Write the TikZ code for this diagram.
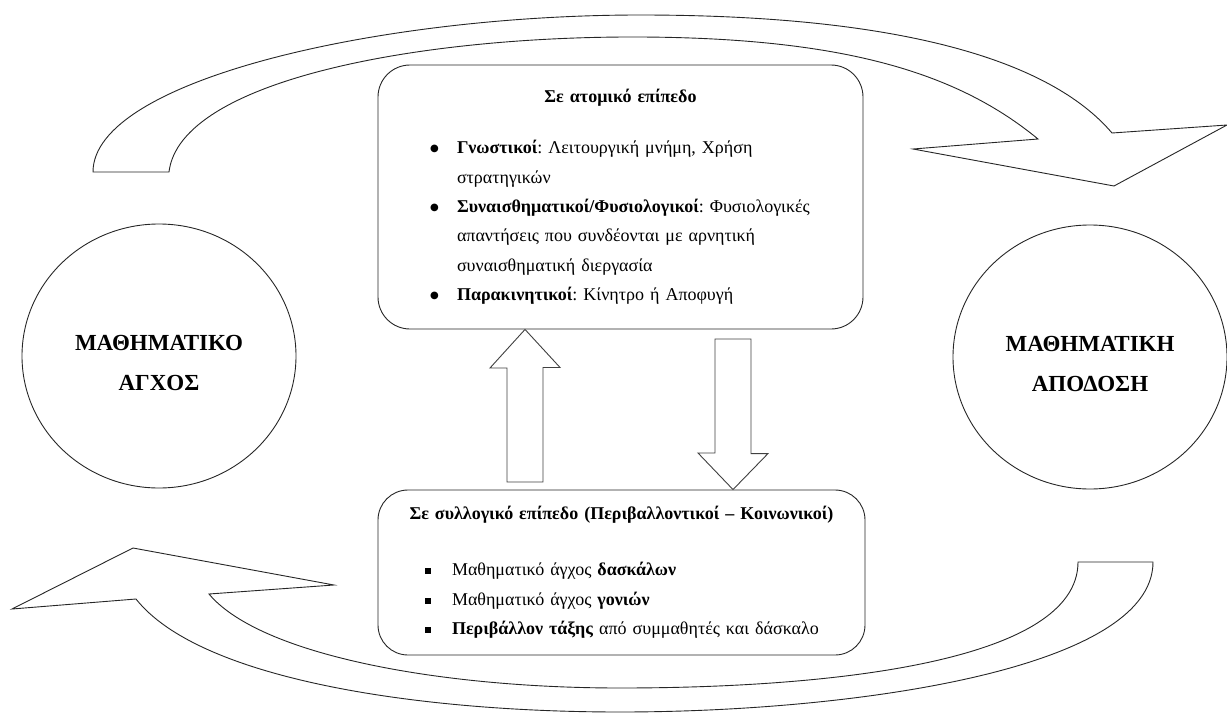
\documentclass[tikz,border=0pt]{standalone}
\usepackage{fontspec}
\setmainfont{Liberation Serif}
\newfontfamily\symfont{DejaVu Sans}
\usetikzlibrary{positioning,shapes.geometric}

\newcommand{\dotitem}[2]{\par\hangindent=27pt\hangafter=1\noindent\makebox[27pt][l]{#1}#2}
\newcommand{\roundbul}{\raisebox{2pt}{\symfont\fontsize{10pt}{10pt}\selectfont ●}}
\newcommand{\squarebul}{\rule[1.5pt]{6pt}{6pt}}

\tikzset{
  level/.style={draw=black!85, line width=0.9pt, fill=white, rounded corners=32pt,
    minimum width=485pt, inner sep=0pt, text width=485pt,
    font=\fontsize{18pt}{29.4pt}\selectfont\frenchspacing},
  factor/.style={draw=black!85, line width=0.9pt, ellipse, minimum width=274pt, minimum height=264pt},
  factortext/.style={font=\fontsize{23pt}{40pt}\selectfont\bfseries, align=center},
  bigarrow/.style={draw=black!85, line width=0.9pt, fill=white, line join=miter},
  blockarrow/.style={draw=black!75, line width=0.9pt, fill=white}
}

\begin{document}
\begin{tikzpicture}[x=1pt, y=-1pt]
	\useasboundingbox (0,0) rectangle (1227,715);
	
	% big curved arrows
	\draw[bigarrow] (93,172) .. controls (93,80) and (380,15) .. (640,15)
		.. controls (900,15) and (1050,60) .. (1112,133) -- (1227,125) -- (1114,186)
		-- (913,149) -- (1038,139) .. controls (960,75) and (850,38) .. (640,37)
		.. controls (420,36) and (180,80) .. (169,172) -- cycle;
	\draw[bigarrow] (136,599) .. controls (200,680) and (420,712) .. (620,712)
		.. controls (850,712) and (1153,670) .. (1153,562) -- (1078,562)
		.. controls (1078,662) and (830,688) .. (620,688)
		.. controls (440,688) and (260,655) .. (209,594) -- (334,585) -- (133,548)
		-- (12,609) -- cycle;
	
	\node[factor] (anxiety) at (159,356) {};
	\node[factortext] (anxietytext) at (anxiety.center) [yshift=-7pt] {ΜΑΘΗΜΑΤΙΚΟ\\ΑΓΧΟΣ};
	\node[factor] (performance) at (1090,357) {};
	\node[factortext] (performancetext) at (performance.center) [yshift=-7pt] {ΜΑΘΗΜΑΤΙΚΗ\\ΑΠΟΔΟΣΗ};
	
	\node[level, minimum height=264pt] (indiv) at (620.5,197) {%
		{\noindent\centering\textbf{Σε ατομικό επίπεδο}\par}
		\vspace{21.6pt}
		\raggedright\leftskip=52pt
		\dotitem{\roundbul}{\textbf{Γνωστικοί}: Λειτουργική μνήμη, Χρήση\newline στρατηγικών}
		\dotitem{\roundbul}{\textbf{Συναισθηματικοί/Φυσιολογικοί}: Φυσιολογικές\newline απαντήσεις που συνδέονται με αρνητική\newline συναισθηματική διεργασία}
		\dotitem{\roundbul}{\textbf{Παρακινητικοί}: Κίνητρο ή Αποφυγή}\par};
	
	\node[level, minimum height=165pt, minimum width=487pt, text width=487pt, rounded corners=30pt] (collect) at (621.5,572.5) {%
		{\noindent\centering\textbf{Σε συλλογικό επίπεδο (Περιβαλλοντικοί – Κοινωνικοί)}\par}
		\vspace{26.6pt}
		\raggedright\leftskip=47pt
		\dotitem{\squarebul}{Μαθηματικό άγχος \textbf{δασκάλων}}
		\dotitem{\squarebul}{Μαθηματικό άγχος \textbf{γονιών}}
		\dotitem{\squarebul}{\textbf{Περιβάλλον τάξης} από συμμαθητές και δάσκαλο}\par
		\vspace{6pt}};
	
	% block arrows between the two levels
	\coordinate (upfoot) at (525,482);
	\coordinate (downtop) at (733,339);
	\draw[blockarrow] (indiv.south -| upfoot) -- ++(35,38) -- ++(-17,0) |- (upfoot)
		-- ++(-18,0) |- ++(-17,-114) -- cycle;
	\draw[blockarrow] (collect.north -| downtop) -- ++(35,-36) -- ++(-17,0) |- (downtop)
		-- ++(-18,0) |- ++(-17,114) -- cycle;
	
\end{tikzpicture}
\end{document}
